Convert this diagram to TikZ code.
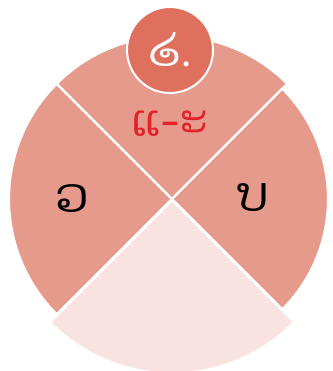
\documentclass[tikz,border=0pt]{standalone}
\usepackage{fontspec}
\usepackage{tikz}
\usepackage{xcolor}
\usetikzlibrary{calc}
\newfontfamily\laofont[Script=Lao]{Dhyana}
\definecolor{salmon}{HTML}{E69A8C}
\definecolor{blush}{HTML}{F9E3E1}
\definecolor{coral}{HTML}{E0705E}
\definecolor{laored}{HTML}{E3212B}
\tikzstyle{sector} = [fill=salmon, draw=white, line width=2.2pt, line join=round]
\tikzstyle{badge} = [circle, minimum size=86pt, fill=coral, draw=white, line width=2pt,
                     text=white, inner sep=0pt]
\tikzstyle{letter} = [inner sep=0pt, font=\laofont\fontsize{48}{48}\selectfont]

\begin{document}
\begin{tikzpicture}[x=1pt, y=-1pt]
    \useasboundingbox (0,0) rectangle (332,371);
    \coordinate (mid) at (172,199);

    % four pieces of the pie
    \fill[blush] (172,202) -- ++(135:170) arc[start angle=135, end angle=45, radius=170] -- cycle;
    \draw[sector] (mid) -- ++(135:163) arc[start angle=135, end angle=225, radius=163] -- cycle;
    \draw[sector] (mid) -- ++(225:163) arc[start angle=225, end angle=315, radius=163] -- cycle;
    \draw[sector] (mid) -- ++(315:156) arc[start angle=-45, end angle=45, radius=156] -- cycle;

    \node[badge] (num) at (170,50) {\laofont\fontsize{46}{46}\selectfont ໒.};

    \node[letter, text=laored, font=\laofont\fontsize{44}{44}\selectfont] (top) at (170,124) {ແ-ະ};
    \node[letter] (left) at (72,199) {ວ};
    \node[letter] (right) at (253,198) {ບ};
\end{tikzpicture}
\end{document}
